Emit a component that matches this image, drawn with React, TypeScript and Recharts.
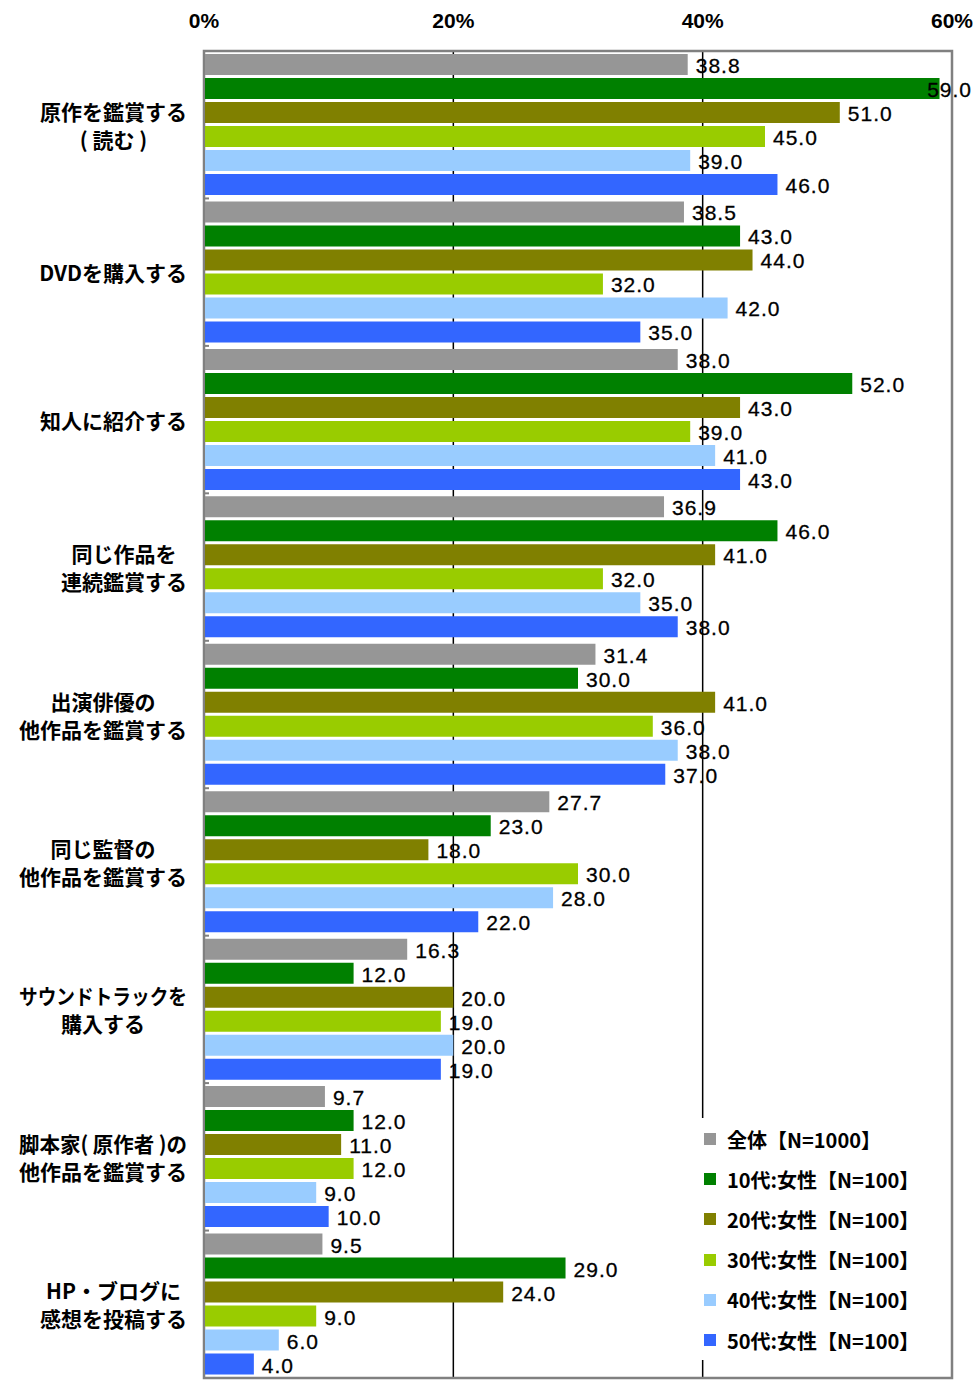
import React from "react";
import {
  BarChart,
  Bar,
  XAxis,
  YAxis,
  CartesianGrid,
  Legend,
  LabelList,
  ReferenceArea,
} from "recharts";

const categories = [
  "原作を鑑賞する\n( 読む )",
  "DVDを購入する",
  "知人に紹介する",
  "同じ作品を\n連続鑑賞する",
  "出演俳優の\n他作品を鑑賞する",
  "同じ監督の\n他作品を鑑賞する",
  "サウンドトラックを\n購入する",
  "脚本家( 原作者 )の\n他作品を鑑賞する",
  "HP・ブログに\n感想を投稿する",
];

const seriesNames = [
  "全体【N=1000】",
  "10代:女性【N=100】",
  "20代:女性【N=100】",
  "30代:女性【N=100】",
  "40代:女性【N=100】",
  "50代:女性【N=100】",
];
const seriesColors = ["#969696", "#008000", "#808000", "#99CC00", "#99CCFF", "#3366FF"];

const valuesAll = [38.8, 38.5, 38.0, 36.9, 31.4, 27.7, 16.3, 9.7, 9.5];
const values10s = [59.0, 43.0, 52.0, 46.0, 30.0, 23.0, 12.0, 12.0, 29.0];
const values20s = [51.0, 44.0, 43.0, 41.0, 41.0, 18.0, 20.0, 11.0, 24.0];
const values30s = [45.0, 32.0, 39.0, 32.0, 36.0, 30.0, 19.0, 12.0, 9.0];
const values40s = [39.0, 42.0, 41.0, 35.0, 38.0, 28.0, 20.0, 9.0, 6.0];
const values50s = [46.0, 35.0, 43.0, 38.0, 37.0, 22.0, 19.0, 10.0, 4.0];

const xTicks = [0, 20, 40, 60];

const seriesValues = [valuesAll, values10s, values20s, values30s, values40s, values50s];
const data = categories.map((name, i) => {
  const row: Record<string, any> = { name };
  seriesValues.forEach((vals, s) => {
    row["s" + s] = vals[i];
  });
  return row;
});

const CHART_W = 974;
const CHART_H = 1380;
const MARGIN = { top: 0, right: 22, bottom: 2, left: 0 };
const X_AXIS_H = 51;
const Y_AXIS_W = 204;
const BAND = (CHART_H - MARGIN.top - MARGIN.bottom - X_AXIS_H) / categories.length;
const MAX_LABEL_W = 168;

const CJK = "'Noto Sans CJK JP', 'Noto Sans', sans-serif";
const LATIN = "'Liberation Sans', Arial, sans-serif";

let ctx: CanvasRenderingContext2D | null = null;
function measure(text: string, font: string): number {
  if (!ctx) {
    const c = document.createElement("canvas");
    ctx = c.getContext("2d");
  }
  if (!ctx) return text.length * 20;
  ctx.font = font;
  return ctx.measureText(text).width;
}

const CategoryTick = (props: any) => {
  const { x, y, payload, index } = props;
  const lines = String(payload.value).split("\n");
  const fontSpec = `bold 21px ${CJK}`;
  const widths = lines.map((l) => Math.min(measure(l, fontSpec), MAX_LABEL_W));
  const rawWidths = lines.map((l) => measure(l, fontSpec));
  const maxW = Math.max(...widths);
  const cx = x - maxW / 2;
  const lh = 28;
  const startY = y - ((lines.length - 1) * lh) / 2;
  const axisX = Y_AXIS_W;
  return (
    <g>
      {index > 0 && (
        <line x1={axisX} x2={axisX + 5} y1={y - BAND / 2} y2={y - BAND / 2} stroke="#808080" strokeWidth={2} />
      )}
      {lines.map((l, i) => (
        <text
          key={i}
          x={cx}
          y={startY + i * lh}
          textAnchor="middle"
          dominantBaseline="central"
          fontFamily={CJK}
          fontWeight="bold"
          fontSize={21}
          fill="#000"
          {...(rawWidths[i] > MAX_LABEL_W
            ? { textLength: MAX_LABEL_W, lengthAdjust: "spacingAndGlyphs" }
            : {})}
        >
          {l}
        </text>
      ))}
    </g>
  );
};

const ValueLabel = (props: any) => {
  const { x, y, width, height, value } = props;
  if (value == null) return null;
  const text = Number(value).toFixed(1);
  const fontSpec = `21px ${LATIN}`;
  const w = measure(text, fontSpec) + 3;
  let tx = x + width + 8;
  const limit = CHART_W - 3;
  if (tx + w > limit) tx = limit - w;
  return (
    <text
      x={tx}
      y={y + height / 2 + 1}
      dominantBaseline="central"
      fontFamily={LATIN}
      fontSize={21}
      letterSpacing={1}
      fill="#000"
      stroke="#000"
      strokeWidth={0.3}
    >
      {text}
    </text>
  );
};

const LegendContent = () => (
  <div
    style={{
      background: "#fff",
      width: 252,
      height: 242,
      boxSizing: "border-box",
      paddingTop: 1,
      paddingLeft: 6,
    }}
  >
    {seriesNames.map((n, i) => (
      <div
        key={n}
        style={{
          display: "flex",
          alignItems: "center",
          height: 40.2,
          fontFamily: CJK,
          fontWeight: "bold",
          fontSize: 20,
          color: "#000",
          whiteSpace: "nowrap",
        }}
      >
        <span
          style={{
            display: "inline-block",
            width: 12,
            height: 12,
            background: seriesColors[i],
            marginRight: 11,
            flexShrink: 0,
          }}
        />
        <span>{n}</span>
      </div>
    ))}
  </div>
);

export default function App() {
  return (
    <div style={{ position: "absolute", left: 0, top: 0, background: "#fff" }}>
      <BarChart
        width={CHART_W}
        height={CHART_H}
        data={data}
        layout="vertical"
        margin={MARGIN}
        barCategoryGap={3}
        barGap={3}
      >
        <CartesianGrid horizontal={false} stroke="#000" strokeWidth={1.5} />
        <XAxis
          type="number"
          orientation="top"
          domain={[0, 60]}
          ticks={xTicks}
          tickFormatter={(v) => `${v}%`}
          axisLine={false}
          tickLine={false}
          tickSize={0}
          tickMargin={23}
          height={X_AXIS_H}
          interval={0}
          tick={{ fontFamily: LATIN, fontWeight: "bold", fontSize: 21, fill: "#000" }}
        />
        <YAxis
          type="category"
          dataKey="name"
          width={Y_AXIS_W}
          axisLine={{ stroke: "#808080", strokeWidth: 2 }}
          tickLine={false}
          tickSize={0}
          tickMargin={17}
          interval={0}
          tick={<CategoryTick />}
        />
        <ReferenceArea
          x1={0}
          x2={60}
          fill="none"
          stroke="#808080"
          strokeWidth={2.5}
          ifOverflow="visible"
        />
        {seriesNames.map((n, i) => (
          <Bar
            key={n}
            dataKey={"s" + i}
            name={n}
            fill={seriesColors[i]}
            isAnimationActive={false}
          >
            <LabelList dataKey={"s" + i} content={<ValueLabel />} />
          </Bar>
        ))}
        <Legend
          layout="vertical"
          align="center"
          verticalAlign="middle"
          content={<LegendContent />}
          wrapperStyle={{ position: "absolute", left: 698, top: 1118, width: 252, height: 242 }}
        />
      </BarChart>
    </div>
  );
}
